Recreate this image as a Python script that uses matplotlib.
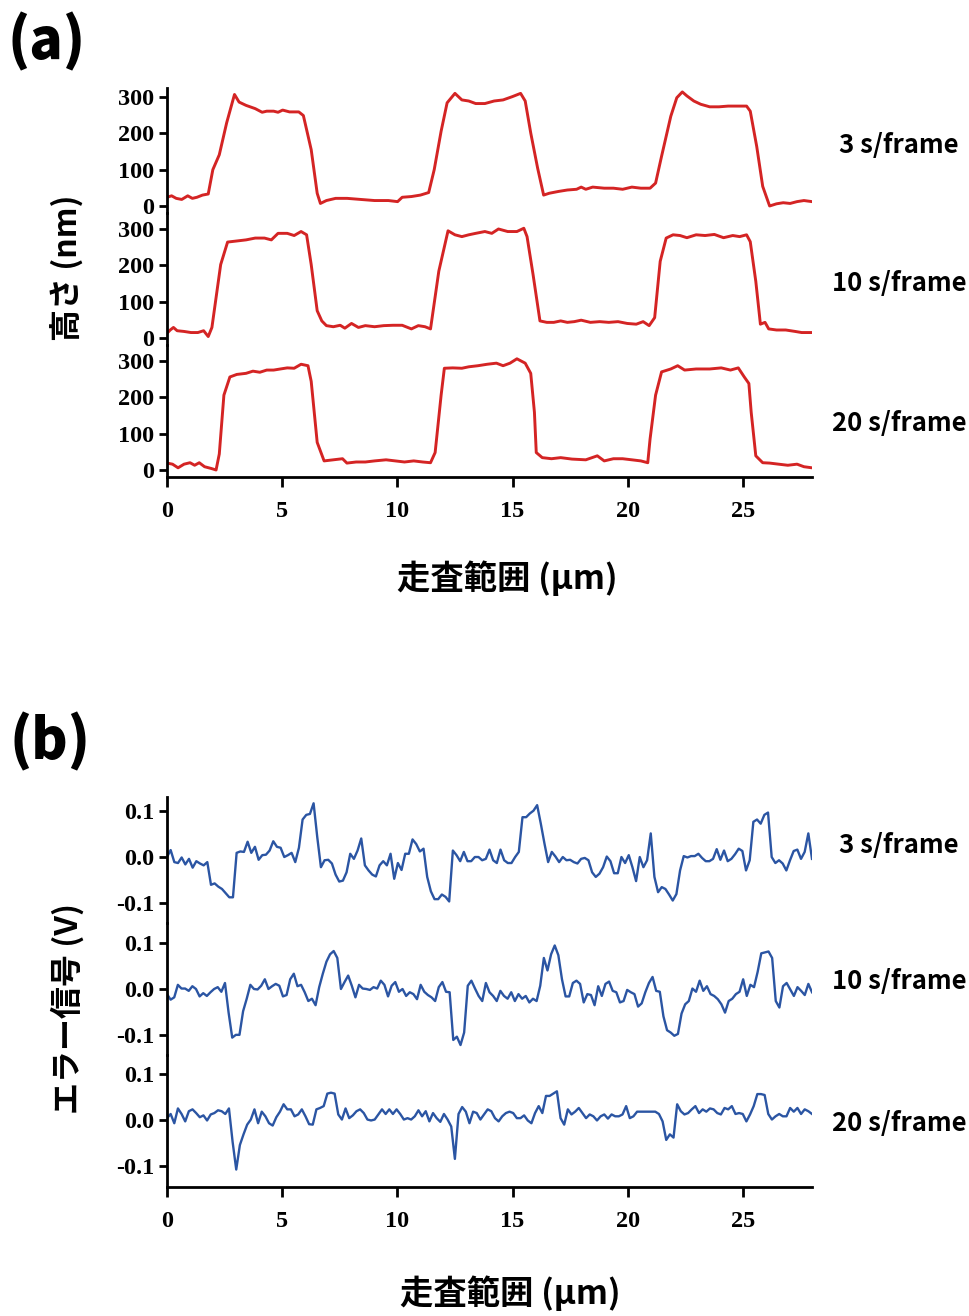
import matplotlib
matplotlib.use("Agg")
import matplotlib.pyplot as plt
import numpy as np

plt.rcParams['axes.unicode_minus'] = False

# ---- data ----
frame_labels = ["3 s/frame", "10 s/frame", "20 s/frame"]
x_ticks = [0, 5, 10, 15, 20, 25]
height_ticks = [0, 100, 200, 300]
error_ticks = [-0.1, 0.0, 0.1]
error_tick_labels = ["-0.1", "0.0", "0.1"]

# (a) height profiles, nm
h3_x = [0, 0.2, 0.4, 0.64, 0.9, 1.1, 1.3, 1.54, 1.79, 1.99, 2.27, 2.59, 2.93, 3.13, 3.43, 3.83,
        4.13, 4.33, 4.63, 4.82, 5.02, 5.32, 5.72, 5.92, 6.26, 6.52, 6.66, 6.92, 7.32, 7.82, 8.41,
        9.01, 9.61, 10.01, 10.21, 10.61, 11.0, 11.36, 11.6, 11.9, 12.16, 12.5, 12.8, 13.1, 13.4,
        13.8, 14.2, 14.59, 14.99, 15.35, 15.55, 15.79, 16.09, 16.35, 16.59, 16.99, 17.38, 17.78,
        17.98, 18.18, 18.48, 18.98, 19.38, 19.78, 20.18, 20.57, 20.97, 21.21, 21.47, 21.87, 22.13,
        22.37, 22.57, 22.87, 23.17, 23.56, 23.96, 24.36, 24.76, 25.16, 25.32, 25.6, 25.86, 26.16,
        26.46, 26.75, 27.05, 27.35, 27.65, 28.0]
h3_y = [24, 28, 21, 18, 28, 21, 24, 30, 33, 100, 141, 229, 307, 286, 277, 268,
        258, 261, 261, 258, 264, 259, 259, 249, 155, 35, 7, 15, 21, 21, 18,
        15, 15, 12, 24, 26, 30, 37, 100, 206, 284, 310, 292, 289, 282,
        282, 289, 292, 301, 310, 289, 201, 104, 30, 35, 40, 44, 46,
        52, 46, 52, 49, 49, 46, 52, 49, 49, 63, 137, 247, 298,
        314, 303, 289, 280, 273, 273, 275, 275, 275, 261, 164, 54, 0,
        6, 9, 7, 12, 15, 12]

h10_x = [0, 0.14, 0.28, 0.44, 0.74, 1.04, 1.34, 1.59, 1.79, 1.95, 2.13, 2.33, 2.63, 3.03, 3.43,
         3.83, 4.23, 4.53, 4.82, 5.22, 5.52, 5.82, 6.06, 6.26, 6.52, 6.72, 6.92, 7.22, 7.52, 7.72,
         8.01, 8.31, 8.61, 9.01, 9.41, 9.81, 10.21, 10.61, 10.91, 11.2, 11.44, 11.8, 12.2, 12.5,
         12.8, 13.1, 13.4, 13.8, 14.1, 14.39, 14.79, 15.19, 15.49, 15.63, 15.89, 16.19, 16.49,
         16.79, 17.09, 17.38, 17.68, 17.98, 18.38, 18.78, 19.18, 19.58, 19.98, 20.37, 20.67,
         20.93, 21.17, 21.41, 21.67, 21.97, 22.27, 22.57, 22.97, 23.36, 23.76, 24.16, 24.56,
         24.86, 25.16, 25.32, 25.56, 25.76, 25.96, 26.12, 26.46, 26.86, 27.27, 27.55, 28.0]
h10_y = [13, 22, 29, 20, 18, 15, 15, 20, 4, 29, 111, 202, 264, 267, 270,
         275, 275, 270, 288, 288, 282, 293, 284, 202, 75, 47, 34, 31, 35, 27,
         40, 29, 34, 31, 34, 35, 35, 25, 34, 31, 25, 184, 295, 284,
         279, 284, 288, 293, 288, 300, 293, 293, 302, 279, 175, 47, 43,
         43, 47, 43, 45, 49, 43, 45, 43, 45, 40, 38, 45,
         34, 56, 211, 275, 284, 282, 276, 284, 282, 285, 276, 282,
         279, 284, 265, 156, 38, 43, 25, 22, 22, 18, 15, 15]

h20_x = [0, 0.24, 0.48, 0.74, 1.0, 1.2, 1.4, 1.63, 1.93, 2.13, 2.27, 2.47, 2.73, 3.03, 3.43,
         3.73, 4.03, 4.33, 4.63, 4.92, 5.22, 5.52, 5.82, 6.12, 6.26, 6.52, 6.82, 7.22, 7.62, 7.81,
         8.21, 8.61, 9.01, 9.51, 9.91, 10.31, 10.71, 11.1, 11.44, 11.64, 11.9, 12.04, 12.4, 12.8,
         13.1, 13.5, 13.9, 14.3, 14.59, 14.89, 15.19, 15.55, 15.79, 15.95, 16.03, 16.29, 16.69,
         17.09, 17.58, 18.18, 18.68, 18.98, 19.38, 19.78, 20.18, 20.57, 20.87, 20.97, 21.21,
         21.47, 21.87, 22.17, 22.47, 22.97, 23.56, 24.06, 24.46, 24.8, 25.06, 25.26, 25.36,
         25.56, 25.86, 26.16, 26.55, 26.95, 27.35, 27.65, 28.0]
h20_y = [19, 16, 6, 16, 20, 13, 20, 9, 4, 0, 44, 206, 256, 263, 266,
         272, 269, 275, 275, 278, 281, 280, 291, 287, 244, 76, 25, 28, 31, 19,
         22, 22, 25, 28, 25, 22, 25, 22, 20, 48, 206, 280, 281, 280,
         284, 287, 291, 294, 287, 294, 306, 294, 266, 159, 48, 34, 31,
         34, 30, 28, 39, 25, 31, 31, 28, 25, 20, 85, 206,
         270, 278, 287, 275, 278, 278, 281, 275, 281, 256, 238, 159,
         39, 20, 19, 16, 13, 16, 9, 6]

# (b) error signals, V (evenly sampled over 0-28 um)
e3 = [0.0, 0.015, -0.011, -0.013, -0.001, -0.016, -0.004, -0.023, -0.009, -0.014, -0.018, -0.011,
      -0.060, -0.057, -0.064, -0.069, -0.078, -0.087, -0.087, 0.009, 0.012, 0.011, 0.033, 0.009,
      0.022, -0.006, 0.004, 0.005, 0.014, 0.034, 0.022, 0.020, 0.0, 0.004, 0.009, -0.011, 0.020,
      0.081, 0.091, 0.093, 0.116, 0.043, -0.022, -0.007, -0.006, -0.014, -0.038, -0.053, -0.051,
      -0.033, 0.007, -0.004, 0.014, 0.040, -0.018, -0.029, -0.038, -0.042, -0.018, -0.009, -0.018,
      0.007, -0.047, -0.013, -0.028, 0.007, 0.007, 0.038, 0.028, 0.012, 0.018, -0.043, -0.074,
      -0.091, -0.091, -0.081, -0.086, -0.096, 0.014, 0.004, -0.009, 0.011, -0.009, -0.009, 0.0,
      0.0, -0.007, -0.004, 0.016, -0.007, -0.013, 0.016, -0.007, -0.013, -0.013, 0.0, 0.011,
      0.086, 0.086, 0.094, 0.100, 0.112, 0.072, 0.029, -0.011, 0.011, 0.001, -0.011, 0.0, -0.007,
      -0.006, -0.011, -0.014, -0.004, -0.002, -0.007, -0.033, -0.043, -0.036, -0.022, 0.001,
      -0.009, -0.035, -0.035, 0.0, -0.013, 0.004, -0.022, -0.052, 0.0, -0.022, -0.007, 0.051,
      -0.043, -0.076, -0.065, -0.069, -0.081, -0.094, -0.080, -0.029, 0.002, -0.001, 0.002, 0.002,
      0.007, -0.002, -0.009, -0.009, -0.004, 0.017, -0.006, 0.014, -0.009, -0.004, 0.006, 0.018,
      0.013, -0.029, -0.007, 0.076, 0.081, 0.072, 0.091, 0.096, 0.0, -0.013, -0.007, -0.014,
      -0.029, -0.007, 0.013, 0.016, -0.004, 0.011, 0.051, -0.004]

e10 = [-0.011, -0.023, -0.018, 0.009, 0.001, 0.001, -0.004, 0.006, 0.0, -0.016, -0.009, -0.015,
       -0.007, 0.0, 0.004, -0.006, 0.013, -0.051, -0.105, -0.099, -0.099, -0.048, -0.021, 0.009,
       0.0, -0.001, 0.007, 0.021, 0.0, 0.006, 0.011, 0.007, -0.016, -0.013, 0.021, 0.033, 0.006,
       0.009, -0.007, -0.026, -0.021, -0.035, 0.004, 0.033, 0.059, 0.075, 0.082, 0.067, 0.0,
       0.015, 0.029, 0.007, -0.018, 0.009, 0.001, 0.0, -0.002, 0.004, 0.001, 0.018, 0.009, -0.016,
       0.007, 0.015, -0.006, 0.0, -0.015, -0.007, -0.011, -0.022, 0.009, -0.006, -0.013, -0.018,
       -0.026, 0.004, 0.015, -0.006, -0.007, -0.110, -0.103, -0.121, -0.094, 0.007, 0.018, 0.001,
       -0.015, -0.026, 0.013, -0.007, -0.015, -0.026, -0.004, -0.015, -0.021, -0.007, -0.026,
       -0.011, -0.021, -0.015, -0.029, -0.021, -0.026, 0.007, 0.067, 0.040, 0.075, 0.094, 0.073,
       0.021, -0.016, -0.016, 0.013, 0.018, 0.011, -0.029, -0.011, -0.013, -0.035, 0.006, -0.015,
       0.011, 0.016, -0.004, -0.007, -0.029, -0.026, -0.002, -0.007, -0.011, -0.038, -0.031,
       -0.007, 0.013, 0.026, -0.004, -0.006, -0.059, -0.089, -0.094, -0.101, -0.097, -0.053,
       -0.033, -0.026, 0.001, -0.006, 0.018, -0.004, 0.006, -0.011, -0.015, -0.022, -0.033,
       -0.051, -0.026, -0.021, -0.011, -0.006, 0.021, -0.015, 0.009, 0.004, 0.037, 0.077, 0.079,
       0.081, 0.067, -0.026, -0.040, 0.006, 0.013, -0.001, -0.015, 0.004, -0.004, -0.013, 0.011,
       -0.007]

e20 = [0.004, 0.013, -0.007, 0.025, 0.013, -0.003, 0.019, 0.023, 0.015, 0.006, 0.010, -0.001,
       0.012, 0.015, 0.021, 0.019, 0.013, 0.025, -0.047, -0.107, -0.054, -0.031, -0.010, 0.001,
       0.023, -0.007, 0.018, 0.008, -0.007, -0.012, 0.006, 0.018, 0.034, 0.023, 0.023, 0.008,
       0.012, 0.023, 0.008, -0.009, -0.010, 0.023, 0.026, 0.030, 0.057, 0.059, 0.057, 0.012, 0.001,
       0.025, 0.004, 0.010, 0.019, 0.023, 0.015, 0.001, -0.001, 0.001, 0.012, 0.023, 0.013, 0.023,
       0.013, 0.023, 0.013, 0.001, 0.004, 0.001, 0.008, 0.021, 0.008, 0.019, -0.003, 0.015, 0.004,
       -0.004, 0.013, 0.001, -0.014, -0.084, 0.013, 0.028, 0.018, -0.007, 0.018, 0.015, 0.001,
       0.012, 0.023, 0.019, 0.004, -0.003, 0.008, 0.015, 0.018, 0.015, 0.004, 0.004, 0.010, -0.001,
       -0.007, 0.015, 0.030, 0.015, 0.052, 0.052, 0.057, 0.062, 0.004, -0.010, 0.023, 0.012, 0.018,
       0.026, 0.015, 0.004, 0.012, 0.008, -0.001, 0.008, 0.012, 0.003, 0.012, 0.008, 0.008, 0.012,
       0.030, 0.004, 0.008, 0.018, 0.018, 0.018, 0.018, 0.018, 0.018, 0.013, -0.003, -0.043,
       -0.031, -0.038, 0.034, 0.019, 0.012, 0.015, 0.023, 0.030, 0.015, 0.023, 0.018, 0.025, 0.023,
       0.015, 0.012, 0.026, 0.023, 0.030, 0.013, 0.015, 0.013, -0.003, 0.012, 0.030, 0.056, 0.056,
       0.054, 0.013, 0.001, 0.008, 0.013, 0.008, 0.008, 0.026, 0.018, 0.026, 0.013, 0.023, 0.019,
       0.013]

# ---- layout (pixels of a 970 x 1316 canvas) ----
W, H = 970, 1316
fig = plt.figure(figsize=(W / 100, H / 100), dpi=100)

tick_font = dict(family="Liberation Serif", weight="bold", size=17.5)
jp = ["Noto Sans CJK JP", "DejaVu Sans"]

def px_axes(top, bottom):
    return fig.add_axes([167 / W, 1 - bottom / H, 645 / W, (bottom - top) / H])

def style(ax, last):
    for s in ["top", "right"]:
        ax.spines[s].set_visible(False)
    ax.spines["left"].set_linewidth(2.0)
    ax.spines["bottom"].set_linewidth(2.0)
    ax.spines["bottom"].set_visible(last)
    ax.set_xlim(0, 28)
    ax.tick_params(axis="y", direction="out", length=6, width=2.0, pad=3)
    if last:
        ax.set_xticks(x_ticks)
        ax.set_xticklabels([str(t) for t in x_ticks], fontdict=tick_font)
        ax.tick_params(axis="x", direction="out", length=7, width=2.0, pad=10)
    else:
        ax.set_xticks([])
    for lab in ax.get_yticklabels():
        lab.set_fontproperties(matplotlib.font_manager.FontProperties(**tick_font))
    ax.patch.set_alpha(0)

# panel (a)
red = "#d42424"
a_boxes = [(88, 213, -19.3, 324.8), (213, 345, -19.3, 344), (345, 477, -19.3, 344)]
a_data = [(h3_x, h3_y), (h10_x, h10_y), (h20_x, h20_y)]
a_label_y = [146, 283, 424]
for i, ((top, bot, lo, hi), (xs, ys)) in enumerate(zip(a_boxes, a_data)):
    ax = px_axes(top, bot)
    ax.plot(xs, ys, color=red, lw=2.1)
    ax.set_ylim(lo, hi)
    ax.set_yticks(height_ticks)
    ax.set_yticklabels([str(t) for t in height_ticks])
    style(ax, i == 2)
    fig.text(899 / W, 1 - a_label_y[i] / H, frame_labels[i], family=jp, weight="bold",
             size=18.5, ha="center", va="center")

# panel (b)
blue = "#2b55a3"
b_boxes = [(797, 923, -0.1425, 0.1296), (923, 1055, -0.1425, 0.1425), (1055, 1187, -0.1447, 0.1404)]
b_data = [e3, e10, e20]
b_label_y = [845, 982, 1124]
for i, ((top, bot, lo, hi), ys) in enumerate(zip(b_boxes, b_data)):
    ax = px_axes(top, bot)
    xs = np.linspace(0, 28, len(ys))
    ax.plot(xs, ys, color=blue, lw=1.7)
    ax.set_ylim(lo, hi)
    ax.set_yticks(error_ticks)
    ax.set_yticklabels(error_tick_labels)
    style(ax, i == 2)
    fig.text(899 / W, 1 - b_label_y[i] / H, frame_labels[i], family=jp, weight="bold",
             size=18.5, ha="center", va="center")

# panel letters and axis titles
fig.text(47 / W, 1 - 42 / H, "(a)", family=jp, weight="black", size=40, ha="center", va="center")
fig.text(50 / W, 1 - 742 / H, "(b)", family=jp, weight="black", size=40, ha="center", va="center")
fig.text(68 / W, 1 - 268 / H, "高さ (nm)", family=jp, weight="bold", size=23,
         rotation=90, ha="center", va="center")
fig.text(68 / W, 1 - 1008 / H, "エラー信号 (V)", family=jp, weight="bold", size=23,
         rotation=90, ha="center", va="center")
fig.text(507 / W, 1 - 578 / H, "走査範囲 (µm)", family=jp, weight="bold", size=24,
         ha="center", va="center")
fig.text(510 / W, 1 - 1293 / H, "走査範囲 (µm)", family=jp, weight="bold", size=24,
         ha="center", va="center")

fig.savefig("out.png", dpi=100, facecolor="white")
